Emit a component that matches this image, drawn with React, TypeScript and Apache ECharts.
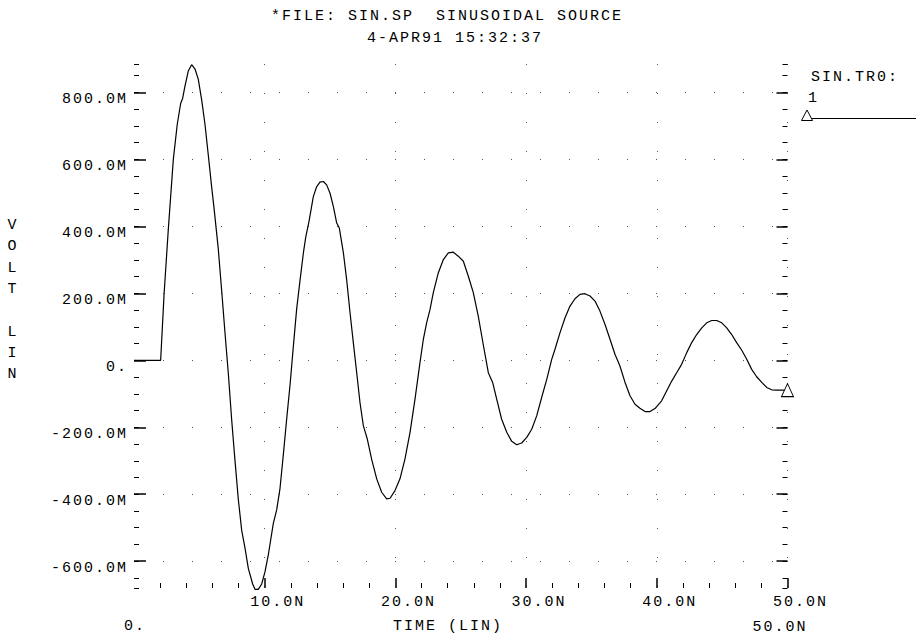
import React, { useEffect, useRef } from "react";
import * as echarts from "echarts";

// ---- texts ----
const titleLine1 = "*FILE: SIN.SP  SINUSOIDAL SOURCE";
const titleLine2 = "4-APR91 15:32:37";
const yAxisTitle = "VOLT LIN";
const xAxisTitle = "TIME (LIN)";
const xRangeStart = "0.";
const xRangeEnd = "50.0N";
const legendName = "SIN.TR0:";
const legendIndex = "1";

// ---- axes ----
const xMin = 0;
const xMax = 50;
const yMin = -680;
const yMax = 885;
const xMajorTicks = [10, 20, 30, 40, 50];
const xMinorTicks = [2, 4, 6, 8, 12, 14, 16, 18, 22, 24, 26, 28, 32, 34, 36, 38, 42, 44, 46, 48];
const yMajorTicks = [-600, -400, -200, 0, 200, 400, 600, 800];
const yMinorTicks = [
  -680, -650, -600, -550, -500, -450, -400, -350, -300, -250, -200, -150, -100, -50, 0, 50, 100,
  150, 200, 250, 300, 350, 400, 450, 500, 550, 600, 650, 700, 750, 800, 850, 885,
];

// ---- series (time in ns, voltage in mV) ----
const timeNs = [
  0, 2.04, 2.3, 2.63, 3.01, 3.31, 3.57, 3.72, 3.9, 4.16, 4.41, 4.67, 4.92, 5.18, 5.43, 5.69, 5.94,
  6.12, 6.45, 6.71, 6.96, 7.22, 7.47, 7.73, 7.98, 8.24, 8.49, 8.75, 9.08, 9.26, 9.51, 9.77, 10.02,
  10.28, 10.66, 10.92, 11.17, 11.43, 11.68, 11.94, 12.19, 12.45, 12.7, 12.96, 13.14, 13.39, 13.72,
  13.98, 14.23, 14.49, 14.74, 15.0, 15.25, 15.51, 15.71, 16.02, 16.27, 16.53, 16.78, 17.04, 17.29,
  17.55, 17.85, 18.18, 18.57, 18.95, 19.33, 19.59, 19.97, 20.35, 20.73, 21.12, 21.5, 21.88, 22.14,
  22.39, 22.65, 22.9, 23.28, 23.67, 24.05, 24.43, 24.81, 25.2, 25.58, 25.96, 26.34, 26.73, 27.11,
  27.44, 27.75, 28.13, 28.52, 28.9, 29.28, 29.66, 30.05, 30.43, 30.81, 31.19, 31.58, 31.96, 32.21,
  32.59, 32.98, 33.36, 33.74, 34.12, 34.5, 34.89, 35.27, 35.65, 36.04, 36.42, 36.8, 37.18, 37.57,
  37.95, 38.33, 38.71, 39.1, 39.48, 39.86, 40.37, 40.76, 41.14, 41.52, 41.9, 42.29, 42.67, 43.05,
  43.44, 43.82, 44.2, 44.58, 44.97, 45.35, 45.73, 46.11, 46.5, 46.88, 47.26, 47.64, 48.03, 48.41,
  48.79, 49.17, 50,
];
const voltM = [
  0, 0, 197, 394, 601, 705, 767, 782, 819, 865, 883, 870, 839, 777, 705, 611, 518,
  456, 332, 207, 83, -41, -176, -301, -415, -508, -560, -622, -668, -684, -684, -668, -632,
  -580, -487, -446, -383, -280, -176, -73, 41, 155, 238, 321, 368, 415, 489,
  519, 532, 534, 524, 499, 460, 410, 395, 321, 241, 142, 53, -37, -126,
  -196, -235, -295, -354, -394, -414, -412, -389, -354, -295, -215, -116, -7, 63,
  112, 152, 202, 261, 301, 321, 323, 311, 296, 251, 202, 132, 45, -37,
  -66, -116, -176, -215, -242, -252, -247, -230, -206, -166, -111, -57, 3, 33,
  82, 127, 162, 184, 197, 199, 192, 177, 147, 107, 63, 18, -17, -66,
  -106, -131, -143, -153, -153, -144, -121, -91, -62, -37, -12, 23, 53, 77,
  97, 112, 119, 119, 112, 97, 77, 53, 30, 3, -27, -49, -66, -81,
  -88, -89, -89,
];

const FONT = "Liberation Mono";
const FSIZE = 15;
const INK = "#000";

export default function App() {
  const ref = useRef<HTMLDivElement>(null);

  useEffect(() => {
    if (!ref.current) return;
    const chart = echarts.init(ref.current, undefined, { renderer: "svg" });

    const last = timeNs.length - 1;
    const data: any[] = timeNs.map((t, i) =>
      i === last
        ? {
            value: [t, voltM[i]],
            symbol: "triangle",
            symbolSize: [12, 13],
            itemStyle: { color: "#fff", borderColor: INK, borderWidth: 1 },
          }
        : [t, voltM[i]]
    );

    const labelFont = { fontFamily: FONT, fontSize: FSIZE, color: INK };
    const hiddenLine = { show: false, onZero: false };
    const dotted = { show: true, lineStyle: { type: [1, 28] as any, color: "#555", width: 1 } };

    const yBase = { type: "value" as const, min: yMin, max: yMax, gridIndex: 0, axisLine: hiddenLine };
    const xBase = { type: "value" as const, min: xMin, max: xMax, gridIndex: 0, axisLine: hiddenLine };

    const txt = (text: string, x: number, y: number, align: string, extra: any = {}) => ({
      type: "text",
      x,
      y,
      style: { text, align, verticalAlign: "middle", fontFamily: FONT, fontSize: FSIZE, fill: INK, ...extra },
    });

    const option: any = {
      animation: false,
      backgroundColor: "#fff",
      textStyle: { fontFamily: FONT },
      grid: { left: 134, right: 128.5, top: 64, bottom: 48, containLabel: false },
      xAxis: [
        {
          ...xBase,
          position: "bottom",
          axisTick: { show: true, inside: true, length: 10, customValues: xMajorTicks, lineStyle: { color: INK, width: 1.5 } },
          axisLabel: {
            show: true,
            customValues: xMajorTicks,
            formatter: (v: number) => `${v}.0N`,
            margin: 7,
            align: "center",
            verticalAlign: "top",
            lineHeight: 14,
            padding: [0, 0, 0, 26],
            ...labelFont,
          },
          splitLine: dotted,
        },
        {
          ...xBase,
          position: "bottom",
          axisTick: { show: true, inside: true, length: 5, customValues: xMinorTicks, lineStyle: { color: INK, width: 1 } },
          axisLabel: { show: false },
          splitLine: { show: false },
        },
      ],
      yAxis: [
        {
          ...yBase,
          position: "left",
          axisTick: { show: true, inside: true, length: 12, customValues: yMajorTicks, lineStyle: { color: INK, width: 1.5 } },
          axisLabel: {
            show: true,
            customValues: yMajorTicks,
            formatter: (v: number) => (v === 0 ? "0." : `${v}.0M`),
            margin: 6,
            align: "right",
            verticalAlign: "top",
            lineHeight: 14,
            ...labelFont,
          },
          splitLine: dotted,
        },
        {
          ...yBase,
          position: "left",
          axisTick: { show: true, inside: true, length: 5, customValues: yMinorTicks, lineStyle: { color: INK, width: 1 } },
          axisLabel: { show: false },
          splitLine: { show: false },
        },
        {
          ...yBase,
          position: "right",
          axisTick: { show: true, inside: true, length: 11, customValues: yMajorTicks, lineStyle: { color: INK, width: 1.5 } },
          axisLabel: { show: false },
          splitLine: { show: false },
        },
        {
          ...yBase,
          position: "right",
          axisTick: { show: true, inside: true, length: 5, customValues: yMinorTicks, lineStyle: { color: INK, width: 1 } },
          axisLabel: { show: false },
          splitLine: { show: false },
        },
      ],
      series: [
        {
          type: "line",
          name: legendName,
          xAxisIndex: 0,
          yAxisIndex: 0,
          data,
          symbol: "none",
          showSymbol: true,
          clip: false,
          lineStyle: { color: INK, width: 1.2 },
          itemStyle: { color: INK },
          z: 5,
        },
      ],
      graphic: [
        txt(titleLine1, 447, 16, "center"),
        txt(titleLine2, 455, 38, "center"),
        {
          type: "text",
          x: 13,
          y: 215,
          style: {
            text: yAxisTitle.split("").join("\n"),
            align: "center",
            verticalAlign: "top",
            lineHeight: 21.3,
            fontFamily: FONT,
            fontSize: FSIZE,
            fill: INK,
          },
        },
        txt(xRangeStart, 124, 626, "left"),
        txt(xAxisTitle, 448, 626, "center"),
        txt(xRangeEnd, 780, 627, "center"),
        txt(legendName, 811, 77, "left"),
        txt(legendIndex, 808, 98, "left"),
        { type: "polygon", shape: { points: [[801.5, 120.5], [807, 110], [812.5, 120.5]] }, style: { fill: "#fff", stroke: INK, lineWidth: 1 } },
        { type: "line", shape: { x1: 812, y1: 118.5, x2: 916, y2: 118.5 }, style: { stroke: INK, lineWidth: 1 } },
      ],
    };

    chart.setOption(option);
    return () => chart.dispose();
  }, []);

  return (
    <>
      <style>{`.spice-chart svg text { letter-spacing: 2px; }`}</style>
      <div
        ref={ref}
        className="spice-chart"
        style={{ position: "fixed", left: 0, top: 0, width: 916, height: 636, background: "#fff" }}
      />
    </>
  );
}
